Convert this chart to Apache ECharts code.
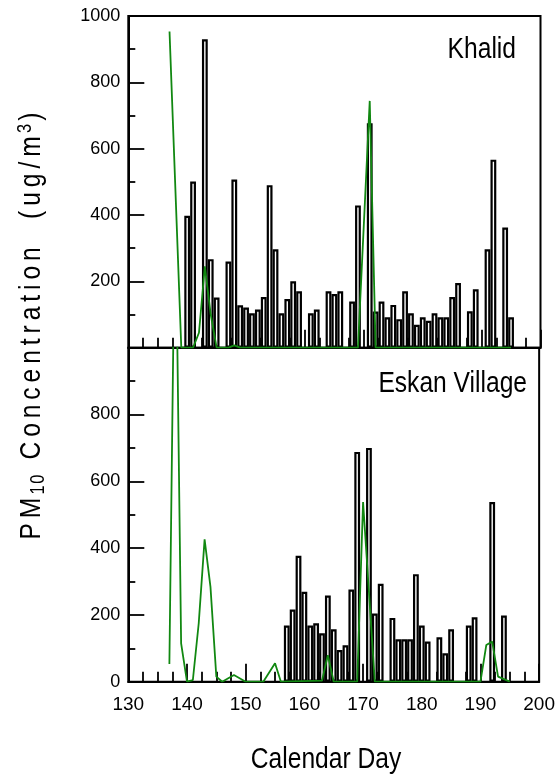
<!DOCTYPE html>
<html>
<head>
<meta charset="utf-8">
<script src="https://cdn.jsdelivr.net/npm/echarts@6/dist/echarts.min.js"></script>
<style>html,body{margin:0;padding:0;background:#fff}#c{width:558px;height:778px}</style>
</head>
<body>
<div id="c"></div>
<script>
// Khalid (top panel) daily bars
const khalidDays = [140,141,143,144,145,147,148,149,150,151,152,153,154,155,156,157,158,159,161,162,164,165,166,168,169,171,172,173,174,175,176,177,178,179,180,181,182,183,184,185,186,188,189,191,192,194,195];
const khalidVals = [398,501,930,267,151,260,507,128,121,104,115,153,490,297,104,147,200,170,104,115,170,162,170,139,429,677,109,139,92,129,86,170,104,69,92,81,104,92,92,153,195,110,176,297,567,362,92];
// Khalid green line vertices
const khalidLineDays = [137,139,141,142,143,144,145,147,148,149,169,171,172,195];
const khalidLineVals = [953,0,0,45,245,100,0,0,7,0,0,744,0,0];
// Eskan Village (bottom panel) daily bars
const eskanDays = [157,158,159,160,161,162,163,164,165,166,167,168,169,171,172,173,175,176,177,178,179,180,181,183,184,185,188,189,192,194];
const eskanVals = [168,216,377,269,168,175,145,258,157,95,109,276,688,700,204,293,191,127,127,127,322,168,120,133,85,157,168,193,538,198];
// Eskan Village green line vertices
const eskanLineDays = [137,138,139,140,141,142,143,144,145,146,148,150,153,155,156,163,164,165,169,170,172,190,191,192,193,195];
const eskanLineVals = [53,1500,115,0,5,175,426,284,15,0,20,0,0,55,0,3,79,0,0,538,0,0,110,120,15,0];
// axis ticks
const xTicks = [130,140,150,160,170,180,190,200];
const yTicks = [0,200,400,600,800,1000];

const pairs = (a,b)=>a.map((d,i)=>[d,b[i]]);
const FONT = '"Liberation Sans",Arial,sans-serif';
const NARROW = 0.82;
const L = 128.3, W = 412.2;
const grids = [
  {left:L, top:16, width:W, height:331.7, show:true, borderColor:'#000', borderWidth:2},
  {left:L, top:347.7, width:W, height:334, show:true, borderColor:'#000', borderWidth:2}
];
function xAx(i, showLabels){
  return {type:'value', gridIndex:i, min:xTicks[0], max:xTicks[xTicks.length-1], interval:xTicks[1]-xTicks[0],
    axisLine:{show:true, lineStyle:{color:'#000', width:2}},
    axisTick:{show:true, inside:true, length:18, lineStyle:{color:'#000', width:1.8}},
    minorTick:{show:true, splitNumber:4, length:10, lineStyle:{color:'#000', width:1.8}},
    splitLine:{show:false},
    axisLabel:{show:showLabels, color:'#000', fontFamily:FONT, fontSize:19, margin:14}};
}
function yAx(i, hide){
  return {type:'value', gridIndex:i, min:yTicks[0], max:yTicks[yTicks.length-1], interval:yTicks[1]-yTicks[0],
    axisLine:{show:true, lineStyle:{color:'#000', width:2}},
    axisTick:{show:true, inside:true, length:16, lineStyle:{color:'#000', width:1.8}},
    minorTick:{show:true, splitNumber:2, length:7, lineStyle:{color:'#000', width:1.8}},
    splitLine:{show:false},
    axisLabel:{color:'#000', fontFamily:FONT, fontSize:18, margin:8, formatter:v=>v===hide?'':String(v)}};
}
const barStyle = {color:'#fff', borderColor:'#000', borderWidth:2.2};
const lineStyle = {color:'#118811', width:1.8};
const chars = s => s.split('').map(c=>'{a|'+c+'}').join('');
const yTitle = chars('PM') + '{s|1}{s|0}' + '{a| }' + chars('Concentration') + '{a| }{a| }' + chars('(ug/m') + '{p|3}' + '{a|)}';
const chart = echarts.init(document.getElementById('c'), null, {renderer:'canvas'});
chart.setOption({
  animation:false,
  backgroundColor:'#fff',
  grid:grids,
  xAxis:[xAx(0,false), xAx(1,true)],
  yAxis:[yAx(0,0), yAx(1,1000)],
  series:[
    {type:'bar', xAxisIndex:0, yAxisIndex:0, data:pairs(khalidDays,khalidVals), barWidth:5.8, itemStyle:barStyle},
    {type:'line', xAxisIndex:0, yAxisIndex:0, data:pairs(khalidLineDays,khalidLineVals), symbol:'none', lineStyle:lineStyle, z:5},
    {type:'bar', xAxisIndex:1, yAxisIndex:1, data:pairs(eskanDays,eskanVals), barWidth:5.8, itemStyle:barStyle},
    {type:'line', xAxisIndex:1, yAxisIndex:1, data:pairs(eskanLineDays,eskanLineVals), symbol:'none', lineStyle:lineStyle, z:5}
  ],
  graphic:[
    {type:'text', x:516, y:50, scaleX:NARROW, style:{text:'Khalid', font:'30px '+FONT, fill:'#000', align:'right', verticalAlign:'middle'}},
    {type:'text', x:527, y:384, scaleX:NARROW, style:{text:'Eskan Village', font:'30px '+FONT, fill:'#000', align:'right', verticalAlign:'middle'}},
    {type:'text', x:326, y:760, scaleX:NARROW, style:{text:'Calendar Day', font:'30px '+FONT, fill:'#000', align:'center', verticalAlign:'middle'}},
    {type:'text', x:32, y:326, rotation:Math.PI/2, scaleX:NARROW, style:{text:yTitle, align:'center', verticalAlign:'middle', fill:'#000',
      rich:{a:{font:'30px '+FONT, padding:[0,3]}, s:{font:'20px '+FONT, padding:[12,1,0,1]}, p:{font:'20px '+FONT, padding:[0,1,14,1]}}}}
  ]
});
</script>
</body>
</html>
